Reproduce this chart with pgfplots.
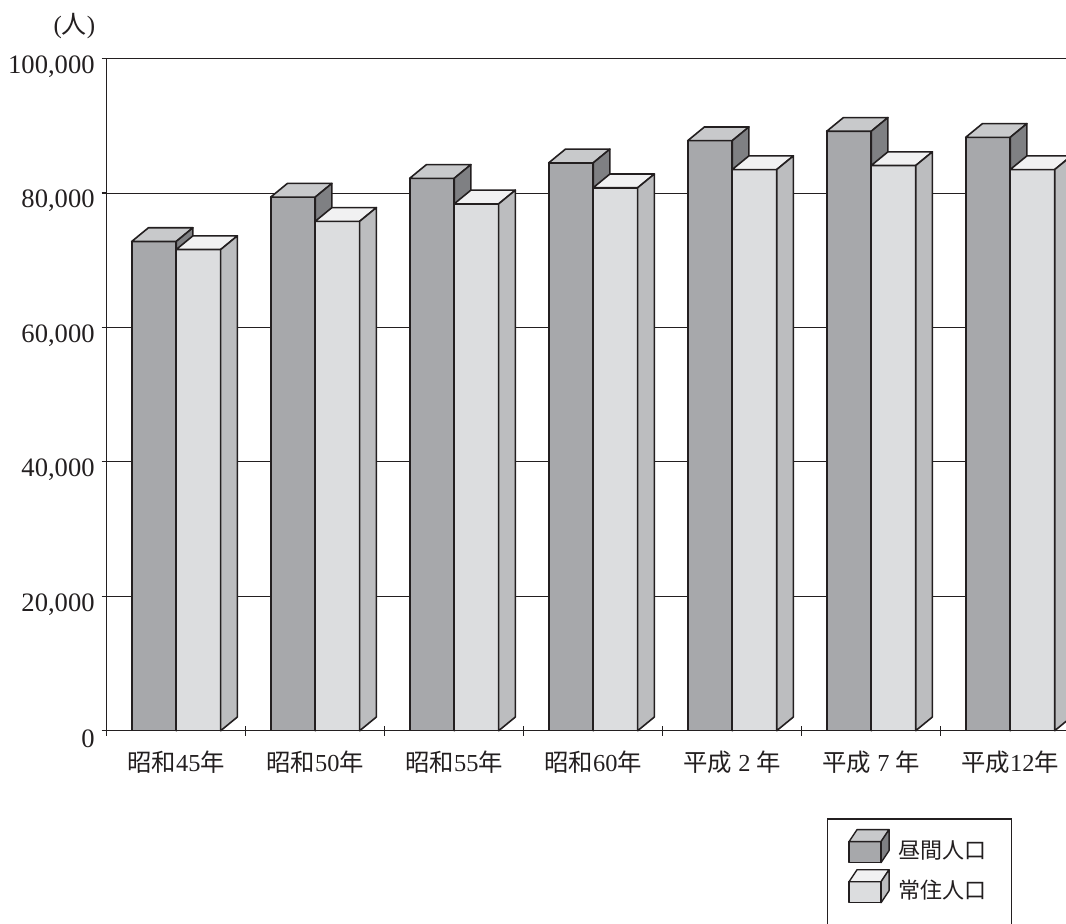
\documentclass[border=0pt]{standalone}
\usepackage{fontspec}
\setmainfont{Liberation Serif}
\newfontfamily\cjk{Noto Sans CJK JP}
\usepackage{pgfplots}
\usepackage{pgfplotstable}
\pgfplotsset{compat=1.18}
\definecolor{edge}{HTML}{231F20}
\definecolor{dayF}{HTML}{A7A8AB}
\definecolor{dayT}{HTML}{C8C9CB}
\definecolor{dayS}{HTML}{7F8083}
\definecolor{resF}{HTML}{DCDDDF}
\definecolor{resT}{HTML}{F1F1F2}
\definecolor{resS}{HTML}{BCBDBF}
\definecolor{txt}{HTML}{231F20}

\pgfdeclareplotmark{nothing}{}

\pgfplotstableread{
idx day res
0 72800 71600
1 79400 75800
2 82200 78400
3 84500 80800
4 87800 83500
5 89200 84100
6 88300 83500
}\datatable

\newcommand\drawcube[3]{%
 \edef\hh{\fpeval{(\pgfplotspointmeta)*0.00336}}%
 \edef\hs{\fpeval{6.85-(\pgfplotspointmeta)*0.00336}}%
 \pgfsetlinewidth{0.8pt}\pgfsetstrokecolor{edge}\pgfsetroundjoin
 \pgfsetfillcolor{#1}%
 \pgfpathrectanglecorners{\pgfqpoint{-11.125pt}{-\hh pt}}{\pgfqpoint{11.125pt}{0pt}}%
 \pgfusepath{fill,stroke}%
 \pgfsetfillcolor{#2}%
 \pgfpathmoveto{\pgfqpoint{-11.125pt}{0pt}}%
 \pgfpathlineto{\pgfqpoint{11.125pt}{0pt}}%
 \pgfpathlineto{\pgfqpoint{19.475pt}{6.85pt}}%
 \pgfpathlineto{\pgfqpoint{-2.775pt}{6.85pt}}%
 \pgfpathclose
 \pgfusepath{fill,stroke}%
 \pgfsetfillcolor{#3}%
 \pgfpathmoveto{\pgfqpoint{11.125pt}{0pt}}%
 \pgfpathlineto{\pgfqpoint{19.475pt}{6.85pt}}%
 \pgfpathlineto{\pgfqpoint{19.475pt}{\hs pt}}%
 \pgfpathlineto{\pgfqpoint{11.125pt}{-\hh pt}}%
 \pgfpathclose
 \pgfusepath{fill,stroke}%
}

\newcommand\legcube[3]{%
 \draw[draw=edge, line width=0.7pt, line join=round, fill=#1] (0pt,-6pt) rectangle (16pt,4.5pt);
 \draw[draw=edge, line width=0.7pt, line join=round, fill=#2] (0pt,4.5pt) -- (16pt,4.5pt) -- (20pt,10.5pt) -- (4pt,10.5pt) -- cycle;
 \draw[draw=edge, line width=0.7pt, line join=round, fill=#3] (16pt,4.5pt) -- (20pt,10.5pt) -- (20pt,0pt) -- (16pt,-6pt) -- cycle;
}

\begin{document}
\begin{tikzpicture}
\begin{axis}[
 name=ax,
 at={(0pt,0pt)}, anchor=south west,
 width=479.65pt, height=336pt, scale only axis,
 xmin=-0.5, xmax=6.4014, ymin=0, ymax=100000,
 axis x line=bottom, axis y line=left,
 axis line style={-, line width=0.6pt, draw=edge},
 ymajorgrids, grid style={line width=0.55pt, draw=edge},
 ytick={0,20000,40000,60000,80000,100000},
 yticklabels={0,{20,000},{40,000},{60,000},{80,000},{100,000}},
 scaled y ticks=false,
 yticklabel style={font=\fontsize{13.3}{15}\selectfont, text=txt, yshift=-4pt},
 ytick align=outside, major tick length=2.5pt,
 ytick style={line width=0.6pt, draw=edge},
 xtick={0,1,2,3,4,5,6},
 xticklabels={{\cjk 昭和}45{\cjk 年},{\cjk 昭和}50{\cjk 年},{\cjk 昭和}55{\cjk 年},{\cjk 昭和}60{\cjk 年},{\cjk 平成}~2~{\cjk 年},{\cjk 平成}~7~{\cjk 年},{\cjk 平成}12{\cjk 年}},
 major x tick style={draw=none},
 minor xtick={-0.5,0.5,1.5,2.5,3.5,4.5,5.5},
 minor tick length=5pt, xtick align=center,
 minor x tick style={line width=0.6pt, draw=edge},
 xticklabel style={font=\fontsize{12.2}{14}\selectfont, text=txt, yshift=-5.5pt},
 legend style={at={(0.7506,-0.1304)}, anchor=north west, draw=edge, line width=0.6pt,
   font=\fontsize{11}{12}\selectfont, text=txt, inner xsep=10.5pt, inner ysep=5pt,
   row sep=2pt, cells={anchor=west},
   /tikz/every odd column/.append style={column sep=2.5pt}},
 clip=true,
]
\addplot[scatter, only marks, mark=nothing, point meta=explicit symbolic,
  scatter/@pre marker code/.code={\drawcube{dayF}{dayT}{dayS}},
  scatter/@post marker code/.code={},
  legend image code/.code={\legcube{dayF}{dayT}{dayS}}]
  table[x expr=\thisrow{idx}-0.16, y=day, meta=day] {\datatable};
\addlegendentry{\cjk 昼間人口}
\addplot[scatter, only marks, mark=nothing, point meta=explicit symbolic,
  scatter/@pre marker code/.code={\drawcube{resF}{resT}{resS}},
  scatter/@post marker code/.code={},
  legend image code/.code={\legcube{resF}{resT}{resS}}]
  table[x expr=\thisrow{idx}+0.16, y=res, meta=res] {\datatable};
\addlegendentry{\cjk 常住人口}
\addlegendimage{empty legend}
\addlegendentry{}
\end{axis}
\node[font=\fontsize{12.5}{14}\selectfont, text=txt] at (ax.north west) [xshift=-16.1pt, yshift=16.5pt] {({\cjk 人})};
\pgfresetboundingbox
\useasboundingbox (-53.35pt,-96.65pt) rectangle (479.65pt,365.35pt);
\end{tikzpicture}
\end{document}
